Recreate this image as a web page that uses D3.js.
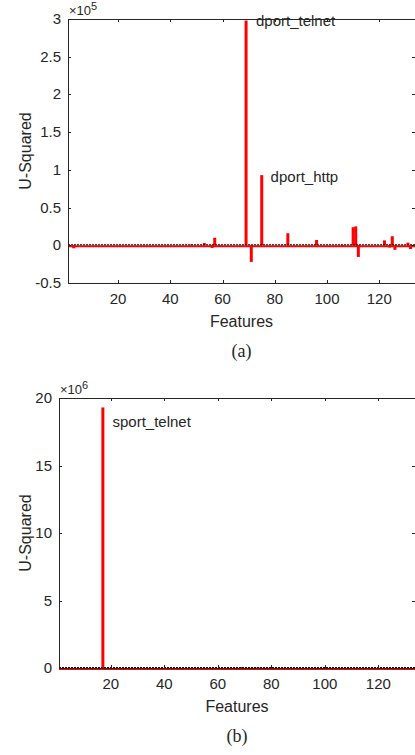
<!DOCTYPE html>
<meta charset="utf-8">
<script src="https://d3js.org/d3.v7.min.js"></script>
<style>
  body { margin: 0; background: #fff; }
  text { font-family: "Liberation Sans", Arial, sans-serif; fill: #262626; }
</style>
<svg id="chart"></svg>
<script>
// Panel (a): feature index and U-squared value (x 1e5); all other features ~0
var featuresA = [3, 48, 53, 56, 57, 59, 69, 71, 75, 85, 96, 106, 110, 111, 112, 122, 124, 125, 126, 131, 132];
var valuesA = [-0.04, 0.01, 0.03, -0.035, 0.10, -0.01, 2.98, -0.22, 0.93, 0.16, 0.07, -0.01, 0.24, 0.25, -0.155, 0.065, -0.03, 0.12, -0.06, 0.035, -0.05];
var yTicksA = [-0.5, 0, 0.5, 1, 1.5, 2, 2.5, 3];
var labelsA = [{ text: "dport_telnet", f: 72.8, v: 2.91 }, { text: "dport_http", f: 78.4, v: 0.84 }];

// Panel (b): values x 1e6
var featuresB = [17, 69, 75];
var valuesB = [19.3, 0.08, 0.05];
var yTicksB = [0, 5, 10, 15, 20];
var labelsB = [{ text: "sport_telnet", f: 20.6, v: 17.85 }];

var xTicks = [20, 40, 60, 80, 100, 120];

var svg = d3.select("#chart").attr("width", 415).attr("height", 755);

function panel(o) {
  var x = d3.scaleLinear().domain(o.xdom).range([o.left, o.right]);
  var y = d3.scaleLinear().domain(o.ydom).range([o.bottom, o.top]);
  var g = svg.append("g");
  var axisCol = "#262626";

  // bars
  g.selectAll("rect.bar")
    .data(o.feats.map(function (f, i) { return { f: f, v: o.vals[i] }; }))
    .enter().append("rect")
    .attr("x", function (d) { return x(d.f) - 1.5; })
    .attr("width", 3)
    .attr("y", function (d) { return Math.min(y(d.v), y(0)); })
    .attr("height", function (d) { return Math.abs(y(d.v) - y(0)); })
    .attr("fill", "#ff0000");

  // zero baseline: red bars with black edges
  g.append("line").attr("x1", o.left).attr("x2", o.right)
    .attr("y1", y(0) + 1).attr("y2", y(0) + 1)
    .attr("stroke", "#ff0000").attr("stroke-width", 2);
  g.append("line").attr("x1", o.left).attr("x2", o.right)
    .attr("y1", y(0) - 0.5).attr("y2", y(0) - 0.5)
    .attr("stroke", "#000").attr("stroke-width", 1)
    .attr("stroke-dasharray", "2,1");

  // axes box
  g.append("rect").attr("x", o.left + 0.5).attr("y", o.top + 0.5)
    .attr("width", o.right - o.left).attr("height", o.bottom - o.top)
    .attr("fill", "none").attr("stroke", axisCol).attr("stroke-width", 1);

  // ticks
  xTicks.forEach(function (t) {
    var xx = Math.round(x(t)) + 0.5;
    g.append("line").attr("x1", xx).attr("x2", xx).attr("y1", o.bottom).attr("y2", o.bottom - 3).attr("stroke", axisCol);
    g.append("line").attr("x1", xx).attr("x2", xx).attr("y1", o.top).attr("y2", o.top + 3).attr("stroke", axisCol);
    g.append("text").attr("x", x(t)).attr("y", o.bottom + 21)
      .attr("text-anchor", "middle").style("font-size", "15px").text(t);
  });
  o.yticks.forEach(function (t) {
    var yy = Math.round(y(t)) + 0.5;
    g.append("line").attr("x1", o.left).attr("x2", o.left + 3).attr("y1", yy).attr("y2", yy).attr("stroke", axisCol);
    g.append("line").attr("x1", o.right).attr("x2", o.right - 3).attr("y1", yy).attr("y2", yy).attr("stroke", axisCol);
    g.append("text").attr("x", o.left - 7).attr("y", y(t) + 5)
      .attr("text-anchor", "end").style("font-size", "15px").text(t);
  });

  // exponent
  var ex = g.append("text").attr("x", o.left + 1).attr("y", o.top - 4).style("font-size", "13px");
  ex.append("tspan").text("\u00d710");
  ex.append("tspan").attr("dy", -5).style("font-size", "11px").text(o.exp);

  // labels on peaks
  o.labels.forEach(function (l) {
    g.append("text").attr("x", x(l.f)).attr("y", y(l.v))
      .style("font-size", "15px").text(l.text);
  });

  // axis titles
  g.append("text").attr("x", (o.left + o.right) / 2).attr("y", o.bottom + 44)
    .attr("text-anchor", "middle").style("font-size", "16px").text("Features");
  g.append("text")
    .attr("transform", "translate(31," + ((o.top + o.bottom) / 2) + ") rotate(-90)")
    .attr("text-anchor", "middle").style("font-size", "16px").text("U-Squared");

  // caption
  g.append("text").attr("x", (o.left + o.right) / 2).attr("y", o.bottom + 74)
    .attr("text-anchor", "middle")
    .style("font-family", "'Liberation Serif', 'Times New Roman', serif")
    .style("font-size", "18px").text(o.caption);
}

panel({ left: 68, right: 415, top: 19, bottom: 283, xdom: [0.8, 133.7], ydom: [-0.5, 3],
  feats: featuresA, vals: valuesA, yticks: yTicksA, labels: labelsA, exp: "5", caption: "(a)" });
panel({ left: 59, right: 415, top: 398, bottom: 668, xdom: [0.6, 133.7], ydom: [0, 20],
  feats: featuresB, vals: valuesB, yticks: yTicksB, labels: labelsB, exp: "6", caption: "(b)" });
</script>
